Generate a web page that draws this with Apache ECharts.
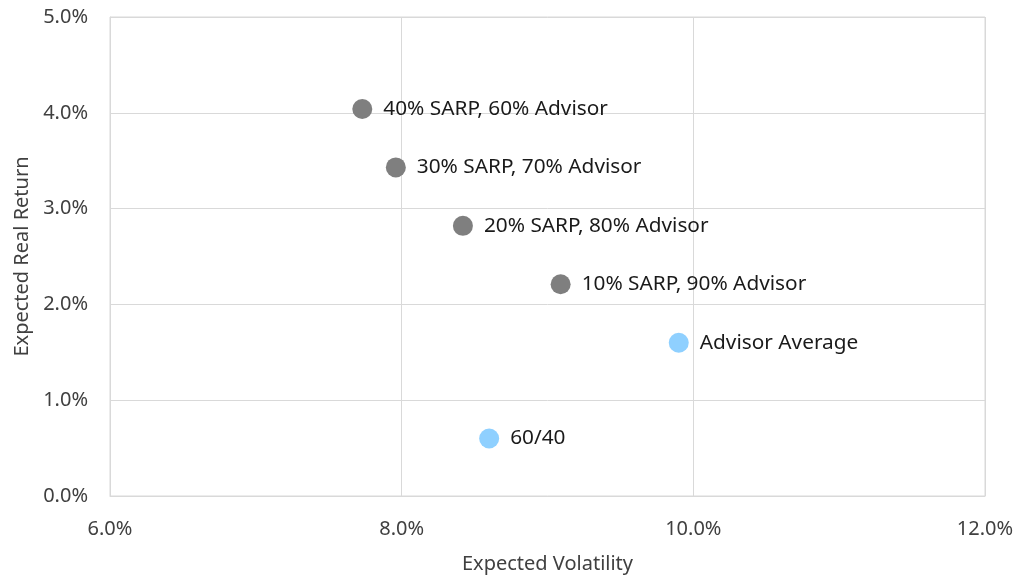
<!DOCTYPE html>
<html lang="en">
<head>
    <meta charset="UTF-8">
    <script src="https://cdn.jsdelivr.net/npm/echarts@6/dist/echarts.min.js"></script>
    <style>
        html, body { margin: 0; padding: 0; background: #fff; }
        #main { width: 1017px; height: 575px; }
    </style>
</head>
<body>
    <div id="main"></div>
    <script>
        // blended portfolios (gray)
        var blendNames = ['40% SARP, 60% Advisor', '30% SARP, 70% Advisor', '20% SARP, 80% Advisor', '10% SARP, 90% Advisor'];
        var blendVol = [7.73, 7.96, 8.42, 9.09];
        var blendRet = [4.04, 3.43, 2.82, 2.21];

        // benchmarks (light blue)
        var benchNames = ['Advisor Average', '60/40'];
        var benchVol = [9.90, 8.60];
        var benchRet = [1.60, 0.60];

        function toPoints(names, xs, ys) {
            return names.map(function (n, i) {
                return { name: n, value: [xs[i], ys[i]] };
            });
        }

        var font = 'Noto Sans';
        var chart = echarts.init(document.getElementById('main'));

        var labelStyle = {
            show: true,
            position: 'right',
            distance: 11,
            formatter: '{b}',
            color: '#1a1a1a',
            fontSize: 20.8,
            fontFamily: font
        };

        chart.setOption({
            animation: false,
            grid: {
                left: 110, right: 32, top: 17, bottom: 79,
                outerBoundsMode: 'none',
                show: true, borderColor: '#d9d9d9', borderWidth: 1
            },
            xAxis: {
                type: 'value',
                min: 6, max: 12, interval: 2,
                name: 'Expected Volatility',
                nameLocation: 'middle',
                nameGap: 58,
                nameTextStyle: { fontSize: 20, color: '#404040', fontFamily: font },
                axisLine: { show: true, lineStyle: { color: '#d9d9d9' } },
                axisTick: { show: false },
                splitLine: { lineStyle: { color: '#d9d9d9' } },
                axisLabel: {
                    margin: 23,
                    fontSize: 20, color: '#404040', fontFamily: font,
                    formatter: function (v) { return v.toFixed(1) + '%'; }
                }
            },
            yAxis: {
                type: 'value',
                min: 0, max: 5, interval: 1,
                name: 'Expected Real Return',
                nameLocation: 'middle',
                nameGap: 78,
                nameTextStyle: { fontSize: 20, color: '#404040', fontFamily: font },
                axisLine: { show: true, lineStyle: { color: '#d9d9d9' } },
                axisTick: { show: false },
                splitLine: { lineStyle: { color: '#d9d9d9' } },
                axisLabel: {
                    margin: 22,
                    fontSize: 20, color: '#404040', fontFamily: font,
                    formatter: function (v) { return v.toFixed(1) + '%'; }
                }
            },
            series: [
                {
                    type: 'scatter',
                    symbolSize: 20,
                    itemStyle: { color: '#7f7f7f', opacity: 1 },
                    label: labelStyle,
                    data: toPoints(blendNames, blendVol, blendRet)
                },
                {
                    type: 'scatter',
                    symbolSize: 20,
                    itemStyle: { color: '#8fd0ff', opacity: 1 },
                    label: labelStyle,
                    data: toPoints(benchNames, benchVol, benchRet)
                }
            ]
        });
    </script>
</body>
</html>
